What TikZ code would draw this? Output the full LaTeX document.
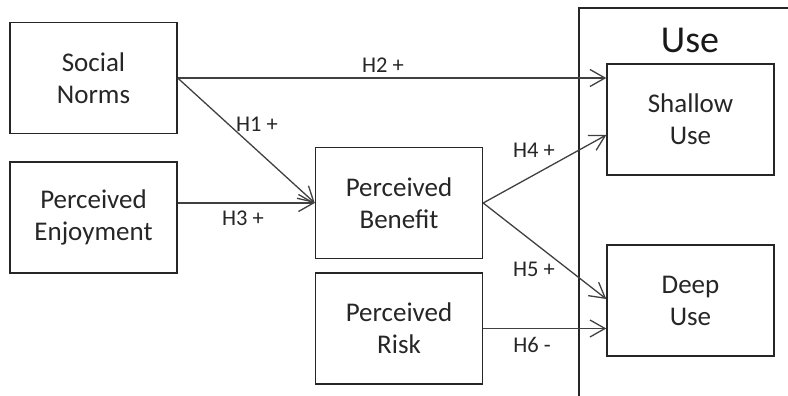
\documentclass[tikz,border=0pt]{standalone}
\usepackage{fontspec}
\setmainfont{Carlito}
\usetikzlibrary{arrows.meta,calc}
\begin{document}
\begin{tikzpicture}[x=1pt,y=-1pt,
  box/.style={draw=black!85,line width=1.4pt,minimum width=167pt,minimum height=111pt,align=center,inner sep=0pt,font=\fontsize{27}{32}\selectfont,text=black!85},
  conn/.style={draw=black!75,line width=1.3pt,-{Straight Barb[length=15pt,width=17pt,line width=1.3pt]}},
  hlab/.style={font=\fontsize{22.5}{26}\selectfont,text=black!85,inner sep=0pt}]
\useasboundingbox (0,0) rectangle (788,396);
% Use container (open to the right and bottom)
\draw[line width=1.4pt,draw=black!85] (579,400) -- (579,8) -- (792,8);
\node[anchor=base,font=\fontsize{38}{40}\selectfont,text=black!90,inner sep=0pt] (usetitle) at (690,53) {Use};
% boxes
\node[box] (sn) at (93.5,78) {Social\\Norms};
\node[box] (pe) at (93.5,217.5) {Perceived\\Enjoyment};
\node[box] (pb) at (399,203) {Perceived\\Benefit};
\node[box] (pr) at (399,328.5) {Perceived\\Risk};
\node[box] (su) at (690.5,119.5) {Shallow\\Use};
\node[box] (du) at (690.5,300.5) {Deep\\Use};
% connectors
\draw[conn] (sn.east) -- (su.west |- sn.east);
\draw[conn] (sn.east) -- (pb.west);
\draw[conn] (pe.east |- pb.west) -- (pb.west);
\draw[conn] (pb.east) -- ([yshift=-15.5pt]su.west);
\draw[conn] (pb.east) -- ([yshift=1.5pt]du.west);
\draw[conn] (pr.east) -- (du.west |- pr.east);
% labels
\node[hlab] (l2) at (383,65) {H2 +};
\node[hlab] (l1) at (257,124) {H1 +};
\node[hlab] (l3) at (243,218) {H3 +};
\node[hlab] (l4) at (534,150) {H4 +};
\node[hlab] (l5) at (534,269) {H5 +};
\node[hlab] (l6) at (532,345) {H6 -};
\end{tikzpicture}
\end{document}
